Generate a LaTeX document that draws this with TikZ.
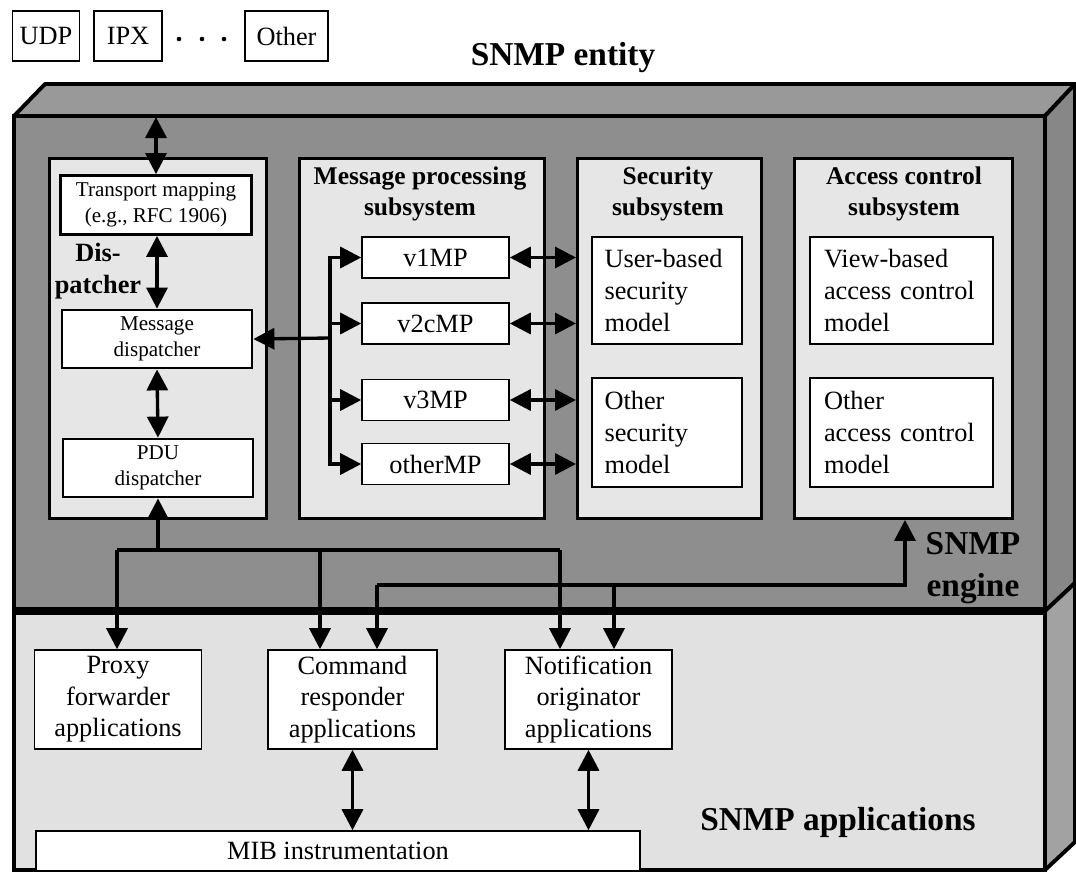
\documentclass[tikz,border=0pt]{standalone}
\usepackage{fontspec}
\setmainfont{Liberation Serif}
\usetikzlibrary{arrows.meta, calc}
\definecolor{enginegray}{HTML}{8E8E8E}
\definecolor{topgray}{HTML}{999999}
\definecolor{sidegray}{HTML}{878787}
\definecolor{sideapp}{HTML}{A2A2A2}
\definecolor{panelgray}{HTML}{E6E6E6}
\definecolor{appgray}{HTML}{E1E1E1}

\begin{document}
\begin{tikzpicture}[x=0.02cm, y=-0.02cm,
    box/.style={draw, fill=white, line width=0.9pt, inner sep=0pt, align=center,
                font=\fontsize{15}{18}\selectfont},
    smallbox/.style={box, line width=1.6pt, font=\fontsize{12}{15}\selectfont},
    modelbox/.style={box, align=left, text width=#1},
    panel/.style={draw, fill=panelgray, line width=1.7pt, anchor=north west,
                  minimum height=7.2cm},
    title/.style={font=\bfseries\fontsize{14.5}{18}\selectfont, align=center},
    biglabel/.style={font=\bfseries\fontsize{19}{24}\selectfont, align=center},
    arr/.style={line width=1.9pt, -{Triangle[length=0.42cm, width=0.42cm]}},
    darr/.style={line width=1.9pt,
                 {Triangle[length=0.42cm, width=0.42cm]}-{Triangle[length=0.42cm, width=0.42cm]}},
    bus/.style={line width=1.9pt}]
  \useasboundingbox (0,0) rectangle (1076,873);

  % transports above the entity
  \node[box, minimum width=1.34cm, minimum height=1cm] (udp) at (46,36) {UDP};
  \node[box, minimum width=1.36cm, minimum height=1cm] (ipx) at (128,36) {IPX};
  \foreach \dx in {179,202,224}
    \fill (\dx,39) circle (2.3);
  \node[box, minimum width=1.66cm, minimum height=1cm] (other) at (286.5,36) {Other};
  \node[biglabel] (entity) at (563,58) {SNMP entity};

  % the box itself
  \filldraw[fill=topgray, line width=2.2pt, line join=round]
    (14,116) -- (45,84) -- (1075,84) -- (1045,116) -- cycle;
  \filldraw[fill=sidegray, line width=2.2pt, line join=round]
    (1045,116) -- (1075,84) -- (1075,583) -- (1045,611) -- cycle;
  \filldraw[fill=sideapp, line width=2.2pt, line join=round]
    (1045,611) -- (1075,583) -- (1075,842) -- (1045,870) -- cycle;
  \filldraw[fill=enginegray, line width=2.2pt] (14,116) rectangle (1045,611);
  \filldraw[fill=appgray, line width=2.2pt] (14,611) rectangle (1045,870);
  \draw[line width=4.5pt] (14,611) -- (1045,611);

  % subsystems
  \node[panel, minimum width=4.34cm] (dispp) at (48,157) {};
  \node[panel, minimum width=4.9cm] (mpp) at (298,157) {};
  \node[panel, minimum width=3.68cm] (secp) at (576,157) {};
  \node[panel, minimum width=4.36cm] (accp) at (793,157) {};

  \node[title] (mptitle) at (420,194) {Message processing\\subsystem};
  \node[title] (sectitle) at (668,194) {Security\\subsystem};
  \node[title] (acctitle) at (904,194) {Access control\\subsystem};

  % dispatcher
  \node[smallbox, minimum width=3.82cm, minimum height=1.18cm] (tmap) at (156,205)
    {Transport mapping\\(e.g., RFC 1906)};
  \node[title, font=\bfseries\fontsize{15}{18}\selectfont] (displabel) at (98,271) {Dis-\\patcher};
  \node[smallbox, minimum width=3.8cm, minimum height=1.16cm] (mdisp) at (157,339)
    {Message\\dispatcher};
  \node[smallbox, minimum width=3.8cm, minimum height=1.16cm] (pdu) at (158,468)
    {PDU\\dispatcher};

  % message processing models
  \node[box, minimum width=2.94cm, minimum height=0.82cm] (v1) at (435.5,257.5) {v1MP};
  \node[box, minimum width=2.94cm, minimum height=0.82cm] (v2) at (435.5,323.5) {v2cMP};
  \node[box, minimum width=2.94cm, minimum height=0.82cm] (v3) at (435.5,400) {v3MP};
  \node[box, minimum width=2.94cm, minimum height=0.82cm] (vo) at (435.5,464) {otherMP};

  % security and access control models
  \node[modelbox=2.5cm, minimum width=3cm, minimum height=2.14cm] (usm) at (667,290.5)
    {User-based\\security\\model};
  \node[modelbox=2.5cm, minimum width=3cm, minimum height=2.18cm] (osec) at (667,432.5)
    {Other\\security\\model};
  \node[modelbox=3.1cm, minimum width=3.66cm, minimum height=2.14cm] (vacm) at (901.5,290.5)
    {View-based\\access control\\model};
  \node[modelbox=3.1cm, minimum width=3.66cm, minimum height=2.18cm] (oacc) at (901.5,432.5)
    {Other\\access control\\model};

  \node[biglabel] (englabel) at (973,568) {SNMP\\engine};

  % applications
  \node[box, minimum width=3.34cm, minimum height=1.98cm] (proxy) at (118,699.5)
    {Proxy\\forwarder\\applications};
  \node[box, minimum width=3.38cm, minimum height=1.98cm] (cmd) at (352.5,699.5)
    {Command\\responder\\applications};
  \node[box, minimum width=3.34cm, minimum height=1.98cm] (notif) at (588.5,699.5)
    {Notification\\originator\\applications};
  \node[box, minimum width=12.08cm, minimum height=0.8cm] (mib) at (338,851)
    {MIB instrumentation};
  \node[biglabel] (applabel) at (838,822) {SNMP applications};

  % dispatcher connectors
  \coordinate (ttop) at (156,117);
  \draw[darr] (ttop) -- (tmap.north);
  \draw[darr] (tmap.south -| mdisp.north) -- (mdisp.north);
  \draw[darr] (mdisp.south) -- (pdu.north);

  \coordinate (split) at (330,338);
  \draw[arr] (split) -- (mdisp.east);
  \foreach \m in {v1,v2,v3,vo}
    \draw[arr] (split) |- (\m);
  \foreach \m in {v1,v2,v3,vo}
    \draw[darr] (\m.east) -- (\m.east -| secp.west);

  % engine to applications
  \coordinate (busL) at (117,550);
  \coordinate (busC) at (320,550);
  \coordinate (busR) at (560,550);
  \draw[bus] (busL) -- (busR);
  \draw[arr] (pdu.south |- busL) -- (pdu.south);
  \draw[arr] (busL) -- (busL |- proxy.north);
  \draw[arr] (busC) -- (busC |- cmd.north);
  \draw[arr] (busR) -- (busR |- notif.north);

  \coordinate (ctlL) at (377,585);
  \coordinate (ctlC) at (614,585);
  \coordinate (ctlR) at (905,585);
  \draw[arr] (ctlL) -- (ctlR) -- (ctlR |- accp.south);
  \draw[arr] (ctlL) -- (ctlL |- cmd.north);
  \draw[arr] (ctlC) -- (ctlC |- notif.north);

  \draw[darr] (cmd.south) -- (cmd.south |- mib.north);
  \draw[darr] (notif.south) -- (notif.south |- mib.north);
\end{tikzpicture}
\end{document}
